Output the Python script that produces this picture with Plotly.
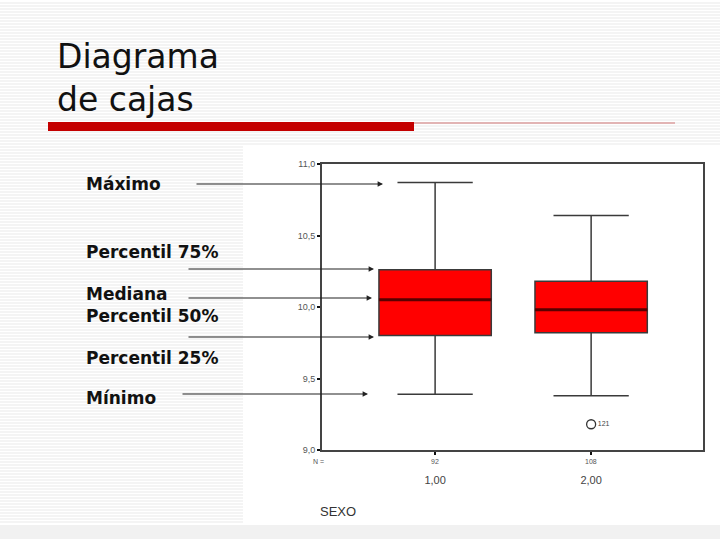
import plotly.graph_objects as go

# ---- data ----
categories = [1, 2]
cat_labels = ["1,00", "2,00"]
n_values = ["92", "108"]
q1_vals = [9.80, 9.82]
median_vals = [10.05, 9.98]
q3_vals = [10.26, 10.18]
min_vals = [9.39, 9.38]
max_vals = [10.87, 10.64]
outlier_x = [2]
outlier_y = [9.18]
outlier_lbl = ["121"]

ann_labels = ["Máximo", "Percentil 75%", "Mediana", "Percentil 50%", "Percentil 25%", "Mínimo"]

# ---- geometry helpers (pixel -> paper) ----
L, R, T, B = 322, 703, 164, 450
W, H = 720, 539
def px(x):
    return (x - L) / (R - L)
def py(y):
    return (B - y) / (B - T)

fig = go.Figure()

BOX_W = 0.72
fig.add_trace(go.Box(
    x=categories, q1=q1_vals, median=median_vals, q3=q3_vals,
    lowerfence=min_vals, upperfence=max_vals,
    width=BOX_W, whiskerwidth=0.67, boxpoints=False,
    fillcolor="#ff0000", line=dict(color="#3a3a3a", width=1.5),
    showlegend=False, hoverinfo="skip"))

for c, m in zip(categories, median_vals):
    fig.add_trace(go.Scatter(
        x=[c - BOX_W / 2, c + BOX_W / 2], y=[m, m], mode="lines",
        line=dict(color="#5a0000", width=3), showlegend=False, hoverinfo="skip"))

fig.add_trace(go.Scatter(
    x=outlier_x, y=outlier_y, mode="markers+text", text=outlier_lbl,
    textposition="middle right", textfont=dict(size=7, color="#444", family="Liberation Sans"),
    marker=dict(symbol="circle-open", size=9, color="#333", line=dict(width=1.3)),
    showlegend=False, hoverinfo="skip", cliponaxis=False))

# ---- background stripes ----
segs = []
for y in range(1, H):
    if y % 3 != 0:
        continue
    if y < 145:
        x0, x1 = 0, 720
    elif y < 525:
        x0, x1 = 0, 243
    else:
        continue
    segs.append(f"M{px(x0):.5f},{py(y):.5f} L{px(x1):.5f},{py(y):.5f}")
shapes = [
    dict(type="rect", xref="paper", yref="paper", x0=px(0), x1=px(720), y0=py(525), y1=py(539),
         fillcolor="#f1f1f1", line=dict(width=0), layer="below"),
    dict(type="path", xref="paper", yref="paper", path=" ".join(segs),
         line=dict(color="#e9e9e9", width=1), layer="below"),
    dict(type="rect", xref="paper", yref="paper", x0=px(48), x1=px(414), y0=py(131), y1=py(122),
         fillcolor="#c40000", line=dict(width=0)),
    dict(type="line", xref="paper", yref="paper", x0=px(414), x1=px(675), y0=py(123), y1=py(123),
         line=dict(color="#e2b4b4", width=2)),
]

annotations = []
annotations.append(dict(
    text="Diagrama<br>de cajas", xref="paper", yref="paper", x=px(55), y=py(35),
    xanchor="left", yanchor="top", align="left", showarrow=False,
    font=dict(family="DejaVu Sans", size=33, color="#111")))

label_y = [184, 252, 294, 316, 358, 398]
for t, yy in zip(ann_labels, label_y):
    annotations.append(dict(
        text=f"<b>{t}</b>", xref="paper", yref="paper", x=px(84), y=py(yy),
        xanchor="left", yanchor="middle", showarrow=False,
        font=dict(family="DejaVu Sans", size=17, color="#111")))

# arrows: (tail_x, head_x, y)
arrows = [(195, 383, 184), (187, 374, 269), (187, 372, 298), (187, 374, 337), (181, 368, 394)]
for tx, hx, yy in arrows:
    annotations.append(dict(
        text="", xref="paper", yref="paper", x=px(hx), y=py(yy),
        ax=tx - hx, ay=0, axref="pixel", ayref="pixel", showarrow=True,
        arrowhead=2, arrowsize=0.9, arrowwidth=1.2, arrowcolor="#222"))

annotations.append(dict(text="N =", xref="paper", yref="paper", x=px(318), y=py(461),
                        xanchor="center", yanchor="middle",
                        showarrow=False, font=dict(size=7, color="#555", family="Liberation Sans")))
for c, n in zip(categories, n_values):
    annotations.append(dict(text=n, x=c, xref="x", yref="paper", y=py(461),
                            xanchor="center", yanchor="middle",
                            showarrow=False, font=dict(size=7, color="#555", family="Liberation Sans")))
annotations.append(dict(text="SEXO", xref="paper", yref="paper", x=px(338), y=py(511),
                        xanchor="center", yanchor="middle",
                        showarrow=False, font=dict(size=13, color="#333", family="Liberation Sans")))

fig.update_layout(
    width=W, height=H, margin=dict(l=L, r=W - R, t=T, b=H - B),
    paper_bgcolor="white", plot_bgcolor="white",
    separators=",.",
    shapes=shapes, annotations=annotations,
    xaxis=dict(range=[0.275, 2.717], tickvals=categories, ticktext=cat_labels,
               showgrid=False, zeroline=False, showline=True, mirror=True,
               linecolor="#444", linewidth=2, ticks="outside", ticklen=3, tickwidth=2,
               tickcolor="#111", ticklabelstandoff=16,
               tickfont=dict(size=11, color="#444", family="Liberation Sans")),
    yaxis=dict(range=[9, 11], dtick=0.5, tickformat=".1f",
               showgrid=False, zeroline=False, showline=True, mirror=True,
               linecolor="#444", linewidth=2, ticks="outside", ticklen=3, tickwidth=2,
               tickcolor="#111",
               tickfont=dict(size=9, color="#555", family="Liberation Sans")),
)

fig.write_html("out.html")
